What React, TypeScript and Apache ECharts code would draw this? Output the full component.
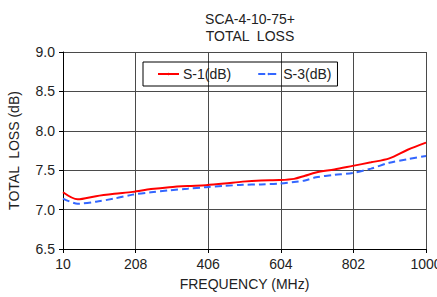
import React, { useEffect, useRef } from "react";
import * as echarts from "echarts";

const freqs = [10, 50, 100, 150, 200, 250, 300, 350, 400, 450, 500, 550, 600, 640, 670, 700, 750, 800, 850, 900, 950, 1000];
const s1 = [7.22, 7.13, 7.17, 7.2, 7.225, 7.26, 7.285, 7.3, 7.31, 7.33, 7.355, 7.37, 7.375, 7.39, 7.43, 7.47, 7.51, 7.555, 7.6, 7.65, 7.76, 7.85];
const s3 = [7.14, 7.075, 7.1, 7.14, 7.19, 7.22, 7.245, 7.265, 7.285, 7.3, 7.315, 7.32, 7.33, 7.35, 7.37, 7.41, 7.44, 7.465, 7.52, 7.595, 7.64, 7.68];
const titleLines = ["SCA-4-10-75+", "TOTAL  LOSS"];
const seriesNames = ["S-1(dB)", "S-3(dB)"];
const xName = "FREQUENCY (MHz)";
const yName = "TOTAL  LOSS (dB)";

const FONT = "Liberation Sans, Arial, sans-serif";

export default function App() {
  const ref = useRef<HTMLDivElement>(null);
  useEffect(() => {
    if (!ref.current) return;
    const chart = echarts.init(ref.current, undefined, { renderer: "svg" });
    chart.setOption({
      animation: false,
      backgroundColor: "#fff",
      textStyle: { fontFamily: FONT },
      title: {
        text: titleLines.join("\n"),
        left: 245,
        textAlign: "center",
        top: 5,
        textStyle: { fontSize: 14, fontWeight: "normal", color: "#222", lineHeight: 17, fontFamily: FONT },
      },
      legend: {
        left: 143,
        top: 62,
        borderColor: "#000",
        borderWidth: 1,
        padding: [5, 6, 5, 14],
        itemGap: 26,
        itemWidth: 21,
        itemHeight: 3,
        textStyle: { fontSize: 14, color: "#222", fontFamily: FONT, padding: [0, 0, 0, -1] },
        data: seriesNames,
      },
      grid: { left: 63, right: 11, top: 52, bottom: 48, containLabel: false, outerBoundsMode: "none" },
      xAxis: {
        type: "value",
        min: 10,
        max: 1000,
        interval: 198,
        name: xName,
        nameLocation: "middle",
        nameGap: 28,
        nameTextStyle: { fontSize: 14, color: "#222", fontFamily: FONT },
        axisLine: { show: true, lineStyle: { color: "#000", width: 1 } },
        axisTick: { show: true, length: 4, lineStyle: { color: "#000" } },
        axisLabel: { fontSize: 14, color: "#222", margin: 8, fontFamily: FONT, formatter: (v: number) => String(v) },
        splitLine: { show: true, lineStyle: { color: "#4a4a4a", width: 1 } },
      },
      yAxis: {
        type: "value",
        min: 6.5,
        max: 9.0,
        interval: 0.5,
        name: yName,
        nameLocation: "middle",
        nameGap: 42,
        nameTextStyle: { fontSize: 14, color: "#222", fontFamily: FONT },
        axisLine: { show: true, lineStyle: { color: "#000", width: 1 } },
        axisTick: { show: true, length: 4, lineStyle: { color: "#000" } },
        axisLabel: { fontSize: 14, color: "#222", margin: 8, formatter: (v: number) => v.toFixed(1), fontFamily: FONT },
        splitLine: { show: true, lineStyle: { color: "#4a4a4a", width: 1 } },
      },
      series: [
        {
          name: seriesNames[0],
          type: "line",
          symbol: "none",
          smooth: 0.3,
          legendIcon: "path://M0 0H21V2H0Z",
          data: freqs.map((f, i) => [f, s1[i]]),
          lineStyle: { color: "#ff0000", width: 2 },
          itemStyle: { color: "#ff0000" },
        },
        {
          name: seriesNames[1],
          type: "line",
          symbol: "none",
          smooth: 0.3,
          legendIcon: "path://M0 0H14V2H0Z M20 0H24V2H20Z",
          data: freqs.map((f, i) => [f, s3[i]]),
          lineStyle: { color: "#3366ff", width: 2, type: [7, 4] },
          itemStyle: { color: "#3366ff" },
        },
      ],
    });
    return () => chart.dispose();
  }, []);
  return <div ref={ref} style={{ width: 437, height: 297, position: "absolute", left: 0, top: 0 }} />;
}
